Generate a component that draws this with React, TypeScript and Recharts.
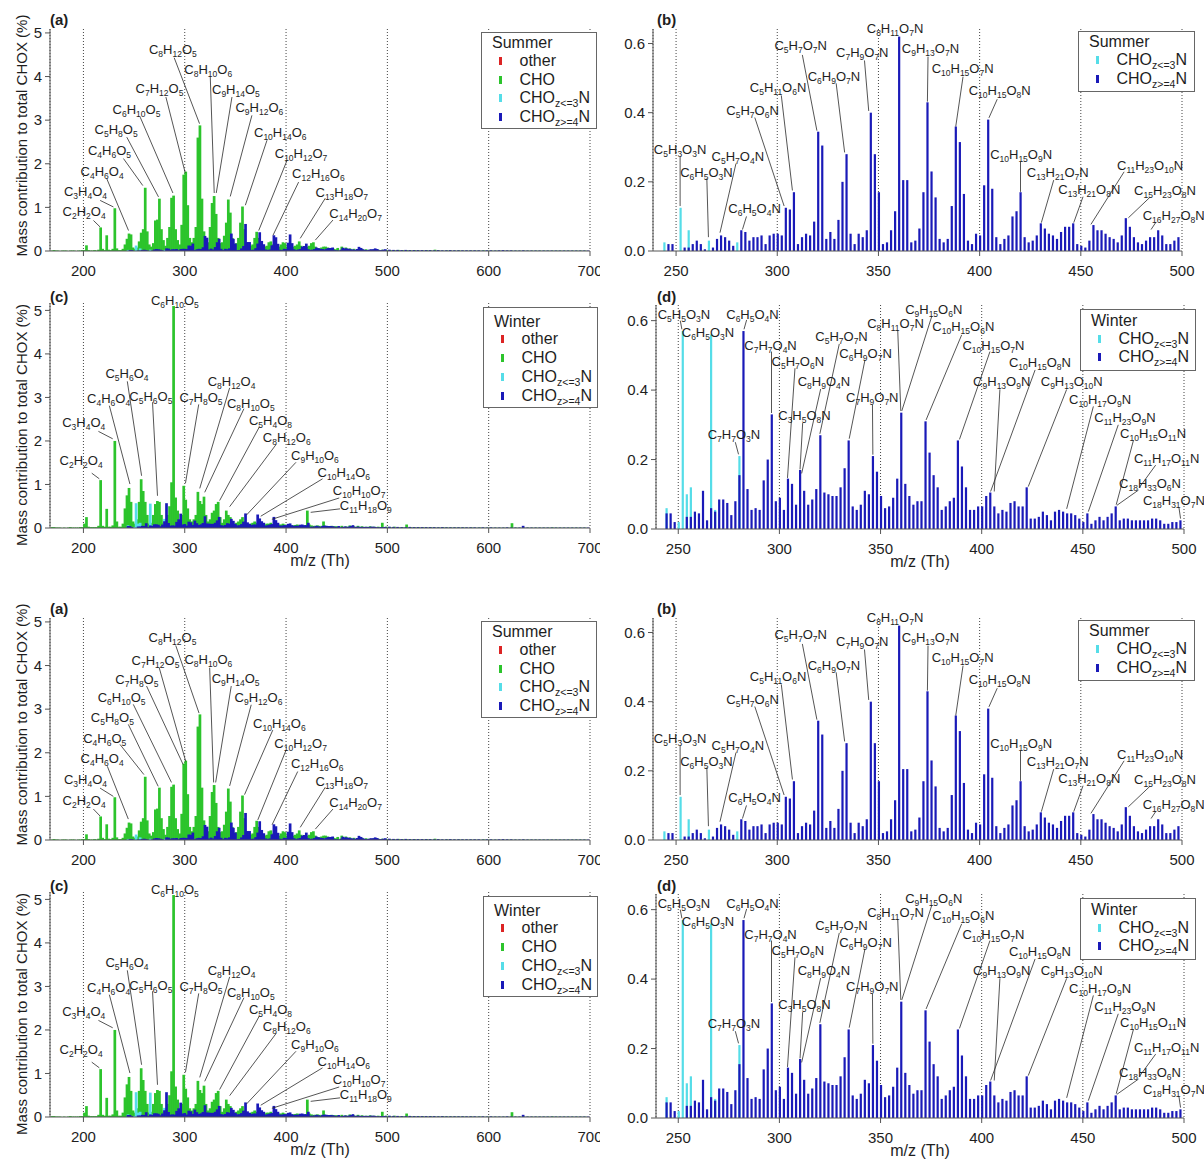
import React from 'react';
import { BarChart, Bar, XAxis, YAxis, CartesianGrid, ReferenceLine, ReferenceDot, Legend } from 'recharts';

const FONT = '"Liberation Sans", Arial, Helvetica, sans-serif';
const AXIS = '#555';
const TEXT = '#1e1e1e';
const RED = '#dc2424';
const GREEN = '#2cc42c';
const CYAN = '#55dde8';
const BLUE = '#1a1ab8';

// ---- categories (m/z positions) ----
const CHO_START = 169; // odd m/z, step 2
const CHO_STEP = 2;
const CHO_TAIL_START = 451; // odd m/z, step 4
const TAIL_STEP = 4;
const N_START = 244; // even m/z, step 2
const N_STEP = 2;
const N_TAIL_START = 502; // even m/z, step 4

const ticksWide = [200, 300, 400, 500, 600, 700];
const ticksNarrow = [250, 300, 350, 400, 450, 500];
const yTicksWide = [0, 1, 2, 3, 4, 5];
const yTicksNarrow = [0, 0.2, 0.4, 0.6];

// ---- Summer CHO (odd m/z 169..449) ----
const summerCHO = [
  0.01, 0.02, 0.01, 0.01, 0, 0.01, 0.01, 0.01, 0, 0.01,
  0.01, 0.01, 0, 0.01, 0.01, 0.02, 0.02, 0.13, 0.02, 0.01,
  0.01, 0.02, 0.01, 0.03, 0.54, 0.05, 0.02, 0.36, 0.03, 0.02,
  0.05, 0.98, 0.06, 0.02, 0.02, 0.05, 0.15, 0.28, 0.4, 0.38,
  0.08, 0.05, 0.08, 0.22, 0.42, 0.5, 1.45, 0.45, 0.15, 0.1,
  0.18, 0.7, 0.72, 1.2, 0.5, 0.25, 0.12, 0.3, 0.55, 1.22,
  1.27, 0.5, 0.25, 0.15, 0.6, 1.75, 1.82, 1.05, 0.3, 0.2,
  0.3, 0.55, 2.6, 2.88, 1.2, 0.45, 0.22, 0.2, 0.55, 1.1,
  1.26, 0.85, 0.3, 0.18, 0.2, 0.35, 0.65, 1.18, 0.88, 0.3,
  0.15, 0.18, 0.3, 0.65, 1.02, 0.5, 0.2, 0.12, 0.12, 0.15,
  0.3, 0.44, 0.3, 0.12, 0.1, 0.1, 0.12, 0.2, 0.22, 0.15,
  0.08, 0.08, 0.1, 0.15, 0.2, 0.18, 0.1, 0.07, 0.07, 0.1,
  0.12, 0.15, 0.22, 0.12, 0.08, 0.07, 0.1, 0.12, 0.18, 0.2,
  0.1, 0.06, 0.06, 0.08, 0.1, 0.1, 0.08, 0.06, 0.05, 0.05,
  0.04,
];
// Summer CHO tail (odd m/z 451..699, step 4)
const summerCHOTail = [
  0.07, 0.1, 0.08, 0.06, 0.05, 0.04, 0.05, 0.04, 0.03, 0.04,
  0.03, 0.03, 0.025, 0.02, 0.02, 0.025, 0.02, 0.02, 0.015, 0.02,
  0.015, 0.015, 0.02, 0.015, 0.03, 0.015, 0.01, 0.015, 0.01, 0.01,
  0.015, 0.01, 0.01, 0.01, 0.01, 0.01, 0.015, 0.01, 0.01, 0.01,
  0.01, 0.01, 0.01, 0.01, 0.01, 0.01, 0.01, 0.01, 0.01, 0.01,
  0.01, 0.01, 0.01, 0.01, 0.01, 0.01, 0.01, 0.01, 0.01, 0.01,
  0.01, 0.01, 0,
];
// ---- Summer CHOz>=4N (even m/z 244..498) ----
const summerN4 = [
  0, 0.02, 0.02, 0, 0, 0.01, 0.01, 0.02, 0.03, 0.02,
  0.005, 0, 0.01, 0.035, 0.045, 0.04, 0.03, 0.015, 0, 0.06,
  0.055, 0.03, 0.04, 0.04, 0.045, 0.02, 0.045, 0.05, 0.05, 0.045,
  0.125, 0.12, 0.17, 0.02, 0.04, 0.05, 0.045, 0.085, 0.345, 0.305,
  0.035, 0.055, 0.035, 0.09, 0.2, 0.28, 0.05, 0.02, 0.05, 0.04,
  0.06, 0.4, 0.28, 0.17, 0.02, 0.025, 0.06, 0.115, 0.62, 0.205,
  0.205, 0.025, 0.03, 0.065, 0.17, 0.43, 0.23, 0.155, 0.035, 0.025,
  0.035, 0.13, 0.36, 0.315, 0.165, 0.03, 0.02, 0.05, 0.045, 0.19,
  0.38, 0.18, 0.04, 0.02, 0.035, 0.045, 0.1, 0.115, 0.17, 0.04,
  0.025, 0.03, 0.045, 0.08, 0.065, 0.05, 0.045, 0.035, 0.055, 0.07,
  0.07, 0.08, 0.02, 0.015, 0.01, 0.03, 0.075, 0.06, 0.06, 0.05,
  0.04, 0.035, 0.025, 0.045, 0.095, 0.07, 0.04, 0.025, 0.02, 0.03,
  0.04, 0.04, 0.06, 0.045, 0.02, 0.02, 0.03, 0.04,
];
// Summer CHOz>=4N tail (even m/z 502..698, step 4)
const summerN4Tail = [
  0.03, 0.025, 0.025, 0.02, 0.025, 0.02, 0.02, 0.02, 0.02, 0.02,
  0.02, 0.015, 0.02, 0.015, 0.015, 0.02, 0.015, 0.015, 0.015, 0.015,
  0.015, 0.015, 0.015, 0.01, 0.015, 0.015, 0.01, 0.015, 0.02, 0.015,
  0.015, 0.01, 0.01, 0.015, 0.01, 0.01, 0.01, 0.01, 0.01, 0.01,
  0.01, 0.01, 0.01, 0.01, 0.01, 0.01, 0.01, 0.01, 0.01, 0.01,
];
// Summer CHOz<=3N [m/z, value]
const summerN3: [number, number][] = [[244, 0.025], [252, 0.125], [256, 0.06], [266, 0.03], [280, 0.025]];
const summerOther: [number, number][] = [];

// ---- Winter CHO (odd m/z 169..449) ----
const winterCHO = [
  0.02, 0.02, 0.01, 0.01, 0.01, 0, 0.01, 0, 0.01, 0.02,
  0.01, 0.01, 0.01, 0.01, 0.02, 0.02, 0.1, 0.25, 0.03, 0.02,
  0.02, 0.02, 0.02, 0.05, 1.1, 0.05, 0.03, 0.44, 0.03, 0.03,
  0.06, 2.0, 0.15, 0.03, 0.03, 0.1, 0.45, 0.75, 0.92, 0.6,
  0.15, 0.1, 0.2, 0.6, 1.12, 0.85, 0.6, 0.3, 0.1, 0.12,
  0.3, 0.55, 0.62, 0.6, 0.3, 0.12, 0.1, 0.3, 0.5, 1.05,
  5.1, 0.7, 0.4, 0.15, 0.3, 0.97, 0.65, 0.45, 0.2, 0.15,
  0.2, 0.3, 0.83, 0.62, 0.55, 0.72, 0.3, 0.15, 0.2, 0.35,
  0.4, 0.55, 0.6, 0.25, 0.12, 0.2, 0.4, 0.3, 0.25, 0.15,
  0.1, 0.12, 0.15, 0.2, 0.25, 0.15, 0.1, 0.08, 0.1, 0.12,
  0.15, 0.12, 0.1, 0.08, 0.07, 0.08, 0.1, 0.1, 0.12, 0.08,
  0.06, 0.06, 0.08, 0.08, 0.1, 0.08, 0.06, 0.05, 0.05, 0.06,
  0.07, 0.08, 0.07, 0.05, 0.05, 0.06, 0.4, 0.08, 0.06, 0.05,
  0.05, 0.06, 0.05, 0.04, 0.15, 0.05, 0.04, 0.04, 0.05, 0.04,
  0.04,
];
const winterCHOTail = [
  0.04, 0.05, 0.04, 0.06, 0.04, 0.05, 0.04, 0.03, 0.04, 0.03,
  0.03, 0.12, 0.03, 0.02, 0.03, 0.02, 0.02, 0.08, 0.02, 0.02,
  0.02, 0.02, 0.015, 0.02, 0.015, 0.015, 0.02, 0.015, 0.015, 0.015,
  0.015, 0.015, 0.01, 0.015, 0.01, 0.015, 0.01, 0.01, 0.01, 0.01,
  0.01, 0.01, 0.01, 0.11, 0.01, 0.01, 0.01, 0.01, 0.01, 0.01,
  0.01, 0.01, 0.01, 0.015, 0.01, 0.01, 0.01, 0.01, 0.01, 0.01,
  0.01, 0.01, 0,
];
const winterN4 = [
  0.045, 0.045, 0.02, 0, 0, 0.035, 0.035, 0.05, 0.045, 0.11,
  0.025, 0.06, 0.05, 0.085, 0.085, 0.075, 0.04, 0.08, 0.155, 0.57,
  0.115, 0.055, 0.06, 0.055, 0.14, 0.2, 0.33, 0.08, 0.09, 0.055,
  0.145, 0.13, 0.07, 0.17, 0.11, 0.07, 0.085, 0.115, 0.27, 0.105,
  0.1, 0.095, 0.095, 0.12, 0.175, 0.255, 0.065, 0.055, 0.07, 0.11,
  0.1, 0.21, 0.165, 0.095, 0.06, 0.065, 0.09, 0.145, 0.335, 0.13,
  0.095, 0.07, 0.08, 0.08, 0.31, 0.22, 0.155, 0.12, 0.055, 0.065,
  0.08, 0.09, 0.255, 0.18, 0.12, 0.055, 0.055, 0.065, 0.065, 0.095,
  0.105, 0.065, 0.045, 0.055, 0.05, 0.075, 0.08, 0.065, 0.065, 0.12,
  0.03, 0.03, 0.035, 0.05, 0.04, 0.025, 0.05, 0.055, 0.05, 0.045,
  0.045, 0.04, 0.03, 0.02, 0.045, 0.015, 0.025, 0.035, 0.025, 0.035,
  0.045, 0.065, 0.025, 0.03, 0.03, 0.025, 0.025, 0.025, 0.025, 0.025,
  0.03, 0.03, 0.025, 0.015, 0.015, 0.02, 0.02, 0.025,
];
const winterN4Tail = [
  0.03, 0.025, 0.025, 0.02, 0.02, 0.025, 0.02, 0.02, 0.02, 0.02,
  0.02, 0.02, 0.015, 0.02, 0.015, 0.015, 0.015, 0.015, 0.015, 0.015,
  0.015, 0.015, 0.01, 0.015, 0.01, 0.015, 0.01, 0.01, 0.01, 0.015,
  0.01, 0.01, 0.01, 0.05, 0.01, 0.01, 0.01, 0.01, 0.01, 0.01,
  0.01, 0.01, 0.01, 0.01, 0.01, 0.01, 0.01, 0.01, 0.01, 0.01,
];
const winterN3: [number, number][] = [[244, 0.06], [250, 0.02], [252, 0.57], [254, 0.1], [256, 0.12], [266, 0.56], [268, 0.055], [280, 0.21]];
const winterOther: [number, number][] = [];

// ---- annotation labels: text centre (x,y) and leader line (x1,y1)->(x2,y2), data units ----
type Lbl = { t: string; x: number; y: number; x1?: number; y1?: number; x2?: number; y2?: number };

const labelsA1: Lbl[] = [
  { t: 'C2H2O4', x: 200.7, y: 0.91, x1: 209.9, y1: 0.7, x2: 216.5, y2: 0.55 },
  { t: 'C3H4O4', x: 202, y: 1.376, x1: 216.5, y1: 1.16, x2: 229.6, y2: 1.01 },
  { t: 'C4H6O4', x: 218.4, y: 1.835, x1: 223, y1: 1.66, x2: 244.5, y2: 0.47 },
  { t: 'C4H6O5', x: 225.7, y: 2.31, x1: 239.5, y1: 2.12, x2: 258.6, y2: 1.5 },
  { t: 'C5H8O5', x: 232.3, y: 2.78, x1: 242.8, y1: 2.61, x2: 274.1, y2: 1.24 },
  { t: 'C6H10O5', x: 252.4, y: 3.25, x1: 256, y1: 3.07, x2: 288.3, y2: 1.33 },
  { t: 'C7H12O5', x: 275.1, y: 3.72, x1: 281.4, y1: 3.53, x2: 300.5, y2: 1.79 },
  { t: 'C8H12O5', x: 288.3, y: 4.63, x1: 289.6, y1: 4.43, x2: 314.6, y2: 2.92 },
  { t: 'C8H10O6', x: 323.2, y: 4.16, x1: 325.2, y1: 3.99, x2: 329.1, y2: 1.33 },
  { t: 'C9H14O5', x: 350.5, y: 3.7, x1: 346.6, y1: 3.53, x2: 331.1, y2: 1.33 },
  { t: 'C9H12O6', x: 373.6, y: 3.29, x1: 366.3, y1: 3.11, x2: 344.9, y2: 1.25 },
  { t: 'C10H14O6', x: 394.3, y: 2.73, x1: 381.2, y1: 2.54, x2: 359.8, y2: 1.05 },
  { t: 'C10H12O7', x: 414.8, y: 2.23, x1: 401, y1: 2.08, x2: 373, y2: 0.47 },
  { t: 'C12H16O6', x: 431.9, y: 1.77, x1: 412.4, y1: 1.58, x2: 387.1, y2: 0.36 },
  { t: 'C13H18O7', x: 455, y: 1.34, x1: 438.7, y1: 1.21, x2: 414, y2: 0.29 },
  { t: 'C14H20O7', x: 468.7, y: 0.86, x1: 446.3, y1: 0.71, x2: 428.9, y2: 0.25 },
];
const labelsA2: Lbl[] = [
  { t: 'C2H2O4', x: 200.7, y: 0.9, x1: 209.8, y1: 0.71, x2: 216.4, y2: 0.55 },
  { t: 'C3H4O4', x: 202, y: 1.38, x1: 216.4, y1: 1.19, x2: 229.5, y2: 1.0 },
  { t: 'C4H6O4', x: 218.4, y: 1.86, x1: 223.6, y1: 1.69, x2: 244.3, y2: 0.48 },
  { t: 'C4H6O5', x: 221, y: 2.32, x1: 236.1, y1: 2.19, x2: 259.7, y2: 1.5 },
  { t: 'C5H8O5', x: 228.5, y: 2.8, x1: 244.3, y1: 2.65, x2: 273.8, y2: 1.23 },
  { t: 'C6H10O5', x: 237.7, y: 3.26, x1: 249.2, y1: 3.11, x2: 286.9, y2: 1.32 },
  { t: 'C7H8O5', x: 252.8, y: 3.68, x1: 262.3, y1: 3.53, x2: 298.4, y2: 1.73 },
  { t: 'C7H12O5', x: 271.1, y: 4.12, x1: 274.8, y1: 3.95, x2: 301, y2: 1.8 },
  { t: 'C8H12O5', x: 287.9, y: 4.64, x1: 291.1, y1: 4.46, x2: 314.1, y2: 2.91 },
  { t: 'C8H10O6', x: 323.3, y: 4.14, x1: 324.6, y1: 3.95, x2: 328.5, y2: 1.32 },
  { t: 'C9H14O5', x: 350.2, y: 3.7, x1: 345.9, y1: 3.53, x2: 330.5, y2: 1.32 },
  { t: 'C9H12O6', x: 372.8, y: 3.28, x1: 365.6, y1: 3.1, x2: 344.3, y2: 1.24 },
  { t: 'C10H14O6', x: 393.4, y: 2.68, x1: 386.9, y1: 2.52, x2: 359, y2: 1.04 },
  { t: 'C10H12O7', x: 414.4, y: 2.21, x1: 400, y1: 2.06, x2: 372.1, y2: 0.46 },
  { t: 'C12H16O6', x: 430.8, y: 1.75, x1: 411.5, y1: 1.57, x2: 386.2, y2: 0.35 },
  { t: 'C13H18O7', x: 455, y: 1.34, x1: 438.7, y1: 1.21, x2: 414, y2: 0.29 },
  { t: 'C14H20O7', x: 468.7, y: 0.86, x1: 446.3, y1: 0.71, x2: 428.9, y2: 0.25 },
];
const labelsB: Lbl[] = [
  { t: 'C5H3O3N', x: 252, y: 0.295, x1: 252, y1: 0.272, x2: 252, y2: 0.13 },
  { t: 'C6H5O3N', x: 265, y: 0.226, x1: 265.2, y1: 0.21, x2: 266, y2: 0.04 },
  { t: 'C5H7O4N', x: 280.5, y: 0.274, x1: 279.6, y1: 0.253, x2: 271.7, y2: 0.053 },
  { t: 'C6H5O4N', x: 288.8, y: 0.124, x1: 284.8, y1: 0.1, x2: 282.8, y2: 0.062 },
  { t: 'C5H7O6N', x: 287.8, y: 0.406, x1: 288.9, y1: 0.386, x2: 303.4, y2: 0.13 },
  { t: 'C5H11O6N', x: 300.4, y: 0.473, x1: 302, y1: 0.45, x2: 307.5, y2: 0.175 },
  { t: 'C5H7O7N', x: 311.6, y: 0.596, x1: 312.4, y1: 0.567, x2: 319.6, y2: 0.348 },
  { t: 'C6H9O7N', x: 328, y: 0.506, x1: 329.1, y1: 0.485, x2: 333.3, y2: 0.285 },
  { t: 'C7H9O7N', x: 342, y: 0.574, x1: 343.1, y1: 0.551, x2: 345.2, y2: 0.405 },
  { t: 'C8H11O7N', x: 358.2, y: 0.644 },
  { t: 'C9H13O7N', x: 375.7, y: 0.586, x1: 374.5, y1: 0.562, x2: 374.2, y2: 0.432 },
  { t: 'C10H15O7N', x: 391.6, y: 0.528, x1: 391.8, y1: 0.504, x2: 388.2, y2: 0.36 },
  { t: 'C10H15O8N', x: 409.9, y: 0.464, x1: 408.7, y1: 0.439, x2: 404.6, y2: 0.385 },
  { t: 'C10H15O9N', x: 420.5, y: 0.28, x1: 420.2, y1: 0.258, x2: 420.2, y2: 0.171 },
  { t: 'C13H21O7N', x: 438.6, y: 0.226, x1: 436.6, y1: 0.205, x2: 430.5, y2: 0.082 },
  { t: 'C13H21O8N', x: 454.2, y: 0.178, x1: 451.1, y1: 0.157, x2: 446.5, y2: 0.082 },
  { t: 'C11H23O10N', x: 484.2, y: 0.248, x1: 471.4, y1: 0.229, x2: 455, y2: 0.077 },
  { t: 'C15H23O8N', x: 491.6, y: 0.176, x1: 484.1, y1: 0.155, x2: 473.5, y2: 0.096 },
  { t: 'C16H27O8N', x: 495.9, y: 0.103, x1: 487.2, y1: 0.084, x2: 484.7, y2: 0.062 },
];
const labelsC: Lbl[] = [
  { t: 'C2H2O4', x: 197.7, y: 1.55, x1: 208.2, y1: 1.26, x2: 215.7, y2: 1.13 },
  { t: 'C3H4O4', x: 200.3, y: 2.42, x1: 214.8, y1: 2.22, x2: 228.9, y2: 2.05 },
  { t: 'C4H6O4', x: 224.9, y: 2.97, x1: 225.6, y1: 2.81, x2: 245.9, y2: 1.01 },
  { t: 'C5H6O4', x: 243, y: 3.56, x1: 243.3, y1: 3.37, x2: 257.4, y2: 1.2 },
  { t: 'C5H6O5', x: 266.6, y: 3.02, x1: 268.2, y1: 2.89, x2: 273.1, y2: 0.74 },
  { t: 'C6H10O5', x: 290.2, y: 5.23 },
  { t: 'C7H8O5', x: 316, y: 3.0, x1: 313.8, y1: 2.84, x2: 300.7, y2: 1.03 },
  { t: 'C8H12O4', x: 346.2, y: 3.37, x1: 344.3, y1: 3.22, x2: 314.8, y2: 0.91 },
  { t: 'C8H10O5', x: 365.2, y: 2.87, x1: 358.4, y1: 2.74, x2: 319.7, y2: 0.82 },
  { t: 'C5H4O8', x: 384.6, y: 2.47, x1: 373.8, y1: 2.33, x2: 334.4, y2: 0.63 },
  { t: 'C8H12O6', x: 400.7, y: 2.09, x1: 390.2, y1: 1.92, x2: 344.3, y2: 0.49 },
  { t: 'C9H10O6', x: 428.5, y: 1.66, x1: 409.8, y1: 1.51, x2: 361, y2: 0.3 },
  { t: 'C10H14O6', x: 457, y: 1.28, x1: 436, y1: 1.13, x2: 375, y2: 0.27 },
  { t: 'C10H10O7', x: 472.1, y: 0.874, x1: 452.5, y1: 0.69, x2: 386, y2: 0.2 },
  { t: 'C11H18O9', x: 478.7, y: 0.51, x1: 453.3, y1: 0.44, x2: 424.3, y2: 0.36 },
];
const labelsD: Lbl[] = [
  { t: 'C5H5O3N', x: 252.8, y: 0.619, x1: 251, y1: 0.6, x2: 251.8, y2: 0.575 },
  { t: 'C6H5O3N', x: 264.7, y: 0.566 },
  { t: 'C6H5O4N', x: 286.7, y: 0.619, x1: 283.8, y1: 0.602, x2: 282.5, y2: 0.575 },
  { t: 'C7H7O4N', x: 295.6, y: 0.53, x1: 296.1, y1: 0.511, x2: 296.1, y2: 0.334 },
  { t: 'C5H7O6N', x: 309.1, y: 0.482, x1: 307.7, y1: 0.463, x2: 304, y2: 0.147 },
  { t: 'C8H9O4N', x: 322, y: 0.425, x1: 320.4, y1: 0.403, x2: 311, y2: 0.16 },
  { t: 'C5H7O7N', x: 330.7, y: 0.554, x1: 329.6, y1: 0.533, x2: 320, y2: 0.274 },
  { t: 'C6H9O7N', x: 342.6, y: 0.506, x1: 342.3, y1: 0.487, x2: 334.5, y2: 0.26 },
  { t: 'C3H5O8N', x: 312.4, y: 0.326, x1: 311.5, y1: 0.305, x2: 310.2, y2: 0.172 },
  { t: 'C7H7O3N', x: 277.5, y: 0.271, x1: 278.2, y1: 0.25, x2: 279.8, y2: 0.215 },
  { t: 'C7H9O7N', x: 345.9, y: 0.38, x1: 346, y1: 0.358, x2: 346.2, y2: 0.214 },
  { t: 'C8H11O7N', x: 357.4, y: 0.592, x1: 358.5, y1: 0.572, x2: 360, y2: 0.34 },
  { t: 'C9H15O6N', x: 376.3, y: 0.633, x1: 375.3, y1: 0.612, x2: 360.5, y2: 0.34 },
  { t: 'C10H15O6N', x: 390.9, y: 0.583, x1: 390.1, y1: 0.559, x2: 372.5, y2: 0.314 },
  { t: 'C10H15O7N', x: 405.8, y: 0.53, x1: 404.1, y1: 0.511, x2: 389, y2: 0.258 },
  { t: 'C9H13O9N', x: 409.9, y: 0.425, x1: 409, y1: 0.402, x2: 406.2, y2: 0.108 },
  { t: 'C10H15O8N', x: 428.8, y: 0.479, x1: 426.4, y1: 0.458, x2: 404.4, y2: 0.108 },
  { t: 'C9H13O10N', x: 444.5, y: 0.425, x1: 442, y1: 0.402, x2: 423, y2: 0.122 },
  { t: 'C10H17O9N', x: 458.5, y: 0.374, x1: 455.2, y1: 0.353, x2: 442, y2: 0.058 },
  { t: 'C11H23O9N', x: 470.8, y: 0.322, x1: 467.5, y1: 0.3, x2: 452.7, y2: 0.05 },
  { t: 'C10H15O11N', x: 484.7, y: 0.276, x1: 475, y1: 0.255, x2: 466.5, y2: 0.07 },
  { t: 'C11H17O11N', x: 491.4, y: 0.204, x1: 486, y1: 0.184, x2: 478, y2: 0.12 },
  { t: 'C18H33O6N', x: 483.2, y: 0.132, x1: 477.5, y1: 0.112, x2: 466.8, y2: 0.068 },
  { t: 'C18H31O7N', x: 495, y: 0.082, x1: 497.5, y1: 0.062, x2: 498.3, y2: 0.03 },
];

// ---- build chart tables from the arrays ----
function seq(start: number, step: number, vals: number[]): [number, number][] {
  return vals.map((v, i) => [start + step * i, v]);
}
function buildRows(series: Record<string, [number, number][]>) {
  const map = new Map<number, any>();
  Object.keys(series).forEach((key) => {
    series[key].forEach(([mz, v]) => {
      const r = map.get(mz) || { mz };
      r[key] = v;
      map.set(mz, r);
    });
  });
  return Array.from(map.values()).sort((a, b) => a.mz - b.mz);
}

const rowsSummerAll = buildRows({
  other: summerOther,
  cho: [...seq(CHO_START, CHO_STEP, summerCHO), ...seq(CHO_TAIL_START, TAIL_STEP, summerCHOTail)],
  n3: summerN3,
  n4: [...seq(N_START, N_STEP, summerN4), ...seq(N_TAIL_START, TAIL_STEP, summerN4Tail)],
});
const rowsWinterAll = buildRows({
  other: winterOther,
  cho: [...seq(CHO_START, CHO_STEP, winterCHO), ...seq(CHO_TAIL_START, TAIL_STEP, winterCHOTail)],
  n3: winterN3,
  n4: [...seq(N_START, N_STEP, winterN4), ...seq(N_TAIL_START, TAIL_STEP, winterN4Tail)],
});
const rowsSummerN = buildRows({ n3: summerN3, n4: seq(N_START, N_STEP, summerN4) });
const rowsWinterN = buildRows({ n3: winterN3, n4: seq(N_START, N_STEP, winterN4) });

const seriesAll = [
  { key: 'other', name: 'other', color: RED },
  { key: 'cho', name: 'CHO', color: GREEN },
  { key: 'n3', name: 'CHOz<=3N', color: CYAN },
  { key: 'n4', name: 'CHOz>=4N', color: BLUE },
];
const seriesN = [
  { key: 'n3', name: 'CHOz<=3N', color: CYAN },
  { key: 'n4', name: 'CHOz>=4N', color: BLUE },
];

// ---- renderers ----
const stick = (w: number) => (props: any) => {
  const { x, y, width, height, fill } = props;
  if (!height || !isFinite(height) || height <= 0 || !isFinite(x)) return null;
  return <rect x={x + width / 2 - w / 2} y={y} width={w} height={height} fill={fill} />;
};

function FormulaText(props: any) {
  const vb = props.viewBox || {};
  const x = vb.x ?? 0;
  const y = vb.y ?? 0;
  const parts: string[] = String(props.text).match(/[A-Za-z]+|\d+/g) || [];
  let sub = false;
  return (
    <text x={x} y={y + 4.6} textAnchor="middle" fontSize={13} fill={TEXT} fontFamily={FONT}>
      {parts.map((p, i) => {
        const isNum = /^\d+$/.test(p);
        const dy = isNum ? (sub ? 0 : 3) : sub ? -3 : 0;
        sub = isNum;
        return (
          <tspan key={i} dy={dy} fontSize={isNum ? 8.5 : 13}>
            {p}
          </tspan>
        );
      })}
    </text>
  );
}

const yTitle = (dy: number) => (props: any) => {
  const vb = props.viewBox || { x: 0, y: 0, width: 50, height: 220 };
  const cx = (vb.x ?? 0) + 21;
  const cy = vb.y + vb.height / 2 + dy;
  return (
    <text
      x={cx}
      y={cy}
      transform={`rotate(-90 ${cx} ${cy})`}
      textAnchor="middle"
      dominantBaseline="central"
      fontSize={15}
      fill={TEXT}
      fontFamily={FONT}
    >
      Mass contribution to total CHOX (%)
    </text>
  );
};

const xTitle = (props: any) => {
  const vb = props.viewBox || { x: 0, y: 0, width: 0, height: 0 };
  const cx = vb.x + vb.width / 2;
  const cy = vb.y + 32;
  return (
    <text x={cx} y={cy} textAnchor="middle" dominantBaseline="central" fontSize={16} fill={TEXT} fontFamily={FONT}>
      m/z (Th)
    </text>
  );
};

function LegendName({ name }: { name: string }) {
  const m = /^CHOz(.+)N$/.exec(name);
  if (!m) return <span>{name}</span>;
  return (
    <span>
      CHO<span style={{ fontSize: 10.5, position: 'relative', top: 4 }}>{'z' + m[1]}</span>N
    </span>
  );
}

function LegendBox({ title, payload, series, padTop }: any) {
  // keep the series order of the chart; take colour/name from the legend payload when present
  const list = series.map((s: any) => {
    const p = (payload || []).find((q: any) => q.dataKey === s.key);
    return { value: p ? p.value : s.name, color: p ? p.color : s.color };
  });
  return (
    <div style={{ position: 'relative', width: '100%', height: '100%', fontFamily: FONT, fontSize: 16, color: TEXT }}>
      <div style={{ position: 'absolute', left: 10, top: padTop + 10 - 9, lineHeight: '18px', whiteSpace: 'nowrap' }}>{title}</div>
      {list.map((it: any, i: number) => {
        const cy = padTop + 27.8 + i * 18.8;
        return (
          <React.Fragment key={i}>
            <div style={{ position: 'absolute', left: 17, top: cy - 4, width: 2.5, height: 8, background: it.color }} />
            <div style={{ position: 'absolute', left: 37.5, top: cy - 9, lineHeight: '18px', whiteSpace: 'nowrap' }}>
              <LegendName name={String(it.value)} />
            </div>
          </React.Fragment>
        );
      })}
    </div>
  );
}

function Panel({ cfg }: { cfg: any }) {
  const axisTick = { fill: TEXT, fontSize: 15, fontFamily: FONT };
  return (
    <div style={{ position: 'absolute', left: cfg.left, top: cfg.top, width: cfg.width, height: cfg.height }}>
      <BarChart width={cfg.width} height={cfg.height} data={cfg.rows} margin={cfg.margin} barGap={0}>
        <CartesianGrid vertical horizontal={false} stroke="#444" strokeDasharray="1 2" />
        <XAxis
          xAxisId={0}
          type="number"
          dataKey="mz"
          domain={cfg.xDomain}
          allowDataOverflow
          ticks={cfg.xTicks}
          interval={0}
          height={cfg.xHeight}
          tickSize={5}
          tickMargin={9}
          axisLine={{ stroke: AXIS }}
          tickLine={{ stroke: AXIS }}
          tick={axisTick}
          label={cfg.showXTitle ? xTitle : undefined}
        />
        {cfg.series.slice(1).map((s: any, i: number) => (
          <XAxis key={s.key} xAxisId={i + 1} type="number" dataKey="mz" domain={cfg.xDomain} allowDataOverflow hide />
        ))}
        <YAxis
          type="number"
          domain={cfg.yDomain}
          allowDataOverflow
          ticks={cfg.yTicks}
          interval={0}
          width={cfg.yWidth}
          tickSize={5}
          tickMargin={3}
          tickFormatter={cfg.yFmt}
          axisLine={{ stroke: AXIS }}
          tickLine={{ stroke: AXIS }}
          tick={axisTick}
          label={cfg.yTitleDy != null ? yTitle(cfg.yTitleDy) : undefined}
        />
        {cfg.series.map((s: any, i: number) => (
          <Bar
            key={s.key}
            xAxisId={i}
            dataKey={s.key}
            name={s.name}
            fill={s.color}
            barSize={1}
            isAnimationActive={false}
            shape={stick(cfg.stickW)}
          />
        ))}
        {cfg.labels.map((l: Lbl, i: number) =>
          l.x1 != null ? (
            <ReferenceLine
              key={'l' + i}
              segment={[{ x: l.x1, y: l.y1 }, { x: l.x2, y: l.y2 }]}
              stroke="#2a2a2a"
              strokeWidth={0.8}
              ifOverflow="visible"
            />
          ) : null
        )}
        {cfg.labels.map((l: Lbl, i: number) => (
          <ReferenceDot
            key={'d' + i}
            x={l.x}
            y={l.y}
            r={0}
            fill="none"
            stroke="none"
            ifOverflow="visible"
            label={<FormulaText text={l.t} />}
          />
        ))}
        <Legend
          layout="horizontal"
          verticalAlign="middle"
          align="center"
          wrapperStyle={{
            left: cfg.legend.left,
            top: cfg.legend.top,
            width: cfg.legend.w,
            height: cfg.legend.h,
            border: '1px solid #666',
            background: '#fff',
            boxSizing: 'border-box',
          }}
          content={(props: any) => (
            <LegendBox title={cfg.legend.title} payload={props.payload} series={cfg.series} padTop={cfg.legend.padTop} />
          )}
        />
      </BarChart>
      <div
        style={{
          position: 'absolute',
          left: cfg.letterX,
          top: cfg.letterCY - 9,
          lineHeight: '18px',
          fontFamily: FONT,
          fontWeight: 'bold',
          fontSize: 15,
          color: TEXT,
        }}
      >
        {cfg.letter}
      </div>
    </div>
  );
}

const fmtInt = (v: number) => String(v);
const fmt1 = (v: number) => v.toFixed(1);

const panelA = {
  left: 0, top: 0, width: 600, height: 290,
  margin: { top: 29, right: 10, bottom: 9, left: 0 },
  yWidth: 50, xHeight: 30, xDomain: [167, 700], xTicks: ticksWide,
  yDomain: [0, 5.09], yTicks: yTicksWide, yFmt: fmtInt,
  rows: rowsSummerAll, series: seriesAll, stickW: 2.7,
  legend: { title: 'Summer', left: 481, top: 32, w: 116, h: 97, padTop: 0 },
  letter: '(a)', letterX: 50, letterCY: 20, yTitleDy: -4.5, showXTitle: false,
};
const panelB = {
  left: 600, top: 0, width: 604, height: 290,
  margin: { top: 29, right: 22, bottom: 9, left: 0 },
  yWidth: 53, xHeight: 30, xDomain: [238.6, 500], xTicks: ticksNarrow,
  yDomain: [0, 0.642], yTicks: yTicksNarrow, yFmt: fmt1,
  rows: rowsSummerN, series: seriesN, stickW: 2.2, labels: labelsB,
  legend: { title: 'Summer', left: 478, top: 31, w: 117, h: 61, padTop: 0 },
  letter: '(b)', letterX: 57, letterCY: 20, yTitleDy: null, showXTitle: false,
};
const panelC = {
  left: 0, top: 290, width: 600, height: 290,
  margin: { top: 13, right: 10, bottom: 8, left: 0 },
  yWidth: 50, xHeight: 44, xDomain: [167, 700], xTicks: ticksWide,
  yDomain: [0, 5.17], yTicks: yTicksWide, yFmt: fmtInt,
  rows: rowsWinterAll, series: seriesAll, stickW: 2.7, labels: labelsC,
  legend: { title: 'Winter', left: 483, top: 17, w: 115, h: 101, padTop: 3.5 },
  letter: '(c)', letterX: 50, letterCY: 7.3, yTitleDy: 9.5, showXTitle: true,
};
const panelD = {
  left: 600, top: 290, width: 604, height: 290,
  margin: { top: 15, right: 20, bottom: 7, left: 0 },
  yWidth: 56, xHeight: 44, xDomain: [239, 500], xTicks: ticksNarrow,
  yDomain: [0, 0.645], yTicks: yTicksNarrow, yFmt: fmt1,
  rows: rowsWinterN, series: seriesN, stickW: 2.2, labels: labelsD,
  legend: { title: 'Winter', left: 480, top: 19, w: 116, h: 62, padTop: 0.7 },
  letter: '(d)', letterX: 57, letterCY: 7.3, yTitleDy: null, showXTitle: true,
};

function Figure({ top, labelsA }: { top: number; labelsA: Lbl[] }) {
  return (
    <div style={{ position: 'absolute', left: 0, top, width: 1204, height: 580 }}>
      <Panel cfg={{ ...panelA, labels: labelsA }} />
      <Panel cfg={panelB} />
      <Panel cfg={panelC} />
      <Panel cfg={panelD} />
    </div>
  );
}

export default function App() {
  return (
    <div
      style={{
        position: 'absolute',
        left: 0,
        top: 0,
        width: 1204,
        height: 1160,
        background: '#fff',
        overflow: 'hidden',
        fontFamily: FONT,
      }}
    >
      <Figure top={0} labelsA={labelsA1} />
      <Figure top={589} labelsA={labelsA2} />
    </div>
  );
}
